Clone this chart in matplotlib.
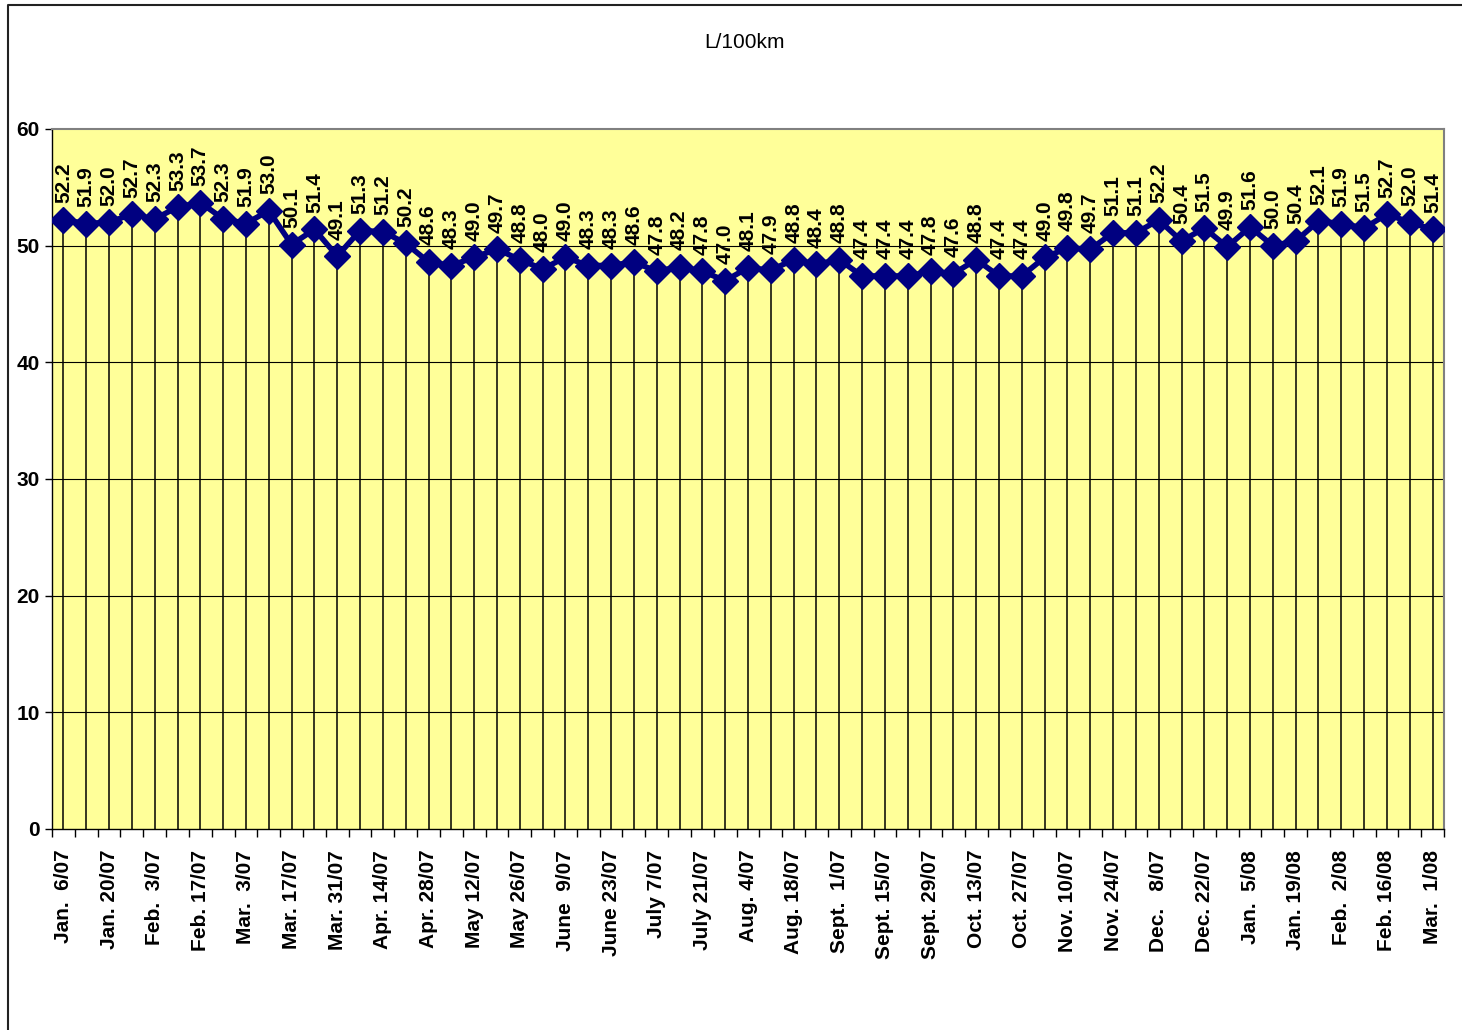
import matplotlib.pyplot as plt
from matplotlib.lines import Line2D

# -----------------------------
# DATA
# -----------------------------

values = [52.2, 51.9, 52.0, 52.7, 52.3, 53.3, 53.7, 52.3, 51.9, 53.0,
          50.1, 51.4, 49.1, 51.3, 51.2, 50.2, 48.6, 48.3, 49.0, 49.7,
          48.8, 48.0, 49.0, 48.3, 48.3, 48.6, 47.8, 48.2, 47.8, 47.0,
          48.1, 47.9, 48.8, 48.4, 48.8, 47.4, 47.4, 47.4, 47.8, 47.6,
          48.8, 47.4, 47.4, 49.0, 49.8, 49.7, 51.1, 51.1, 52.2, 50.4,
          51.5, 49.9, 51.6, 50.0, 50.4, 52.1, 51.9, 51.5, 52.7, 52.0,
          51.4]

# one label every second week
tick_labels = ["Jan.  6/07", "Jan. 20/07", "Feb.  3/07", "Feb. 17/07",
               "Mar.  3/07", "Mar. 17/07", "Mar. 31/07", "Apr. 14/07",
               "Apr. 28/07", "May 12/07", "May 26/07", "June  9/07",
               "June 23/07", "July 7/07", "July 21/07", "Aug. 4/07",
               "Aug. 18/07", "Sept.  1/07", "Sept. 15/07", "Sept. 29/07",
               "Oct. 13/07", "Oct. 27/07", "Nov. 10/07", "Nov. 24/07",
               "Dec.   8/07", "Dec. 22/07", "Jan.  5/08", "Jan. 19/08",
               "Feb.  2/08", "Feb. 16/08", "Mar.  1/08"]

title = "L/100km"
y_ticks = [0, 10, 20, 30, 40, 50, 60]

# -----------------------------
# CHART
# -----------------------------

plt.rcParams["font.family"] = ["Liberation Sans", "DejaVu Sans"]

fig = plt.figure(figsize=(14.62, 10.30), dpi=100)
ax = fig.add_axes([52 / 1462, 1 - 829 / 1030, 1392 / 1462, 700 / 1030])
ax.set_facecolor("#FFFF99")

x = list(range(len(values)))

# horizontal gridlines
for yv in y_ticks[1:-1]:
    ax.axhline(yv, color="black", lw=0.8, zorder=1)

# drop lines from each point to the axis
ax.vlines(x, 0, values, color="black", lw=1.1, zorder=2)

ax.plot(x, values, color="#000080", lw=4, marker="D", markersize=13,
        markerfacecolor="#000080", markeredgecolor="#000080", zorder=3)

for xi, v in zip(x, values):
    ax.annotate(f"{v:.1f}", (xi, v), xytext=(0, 12), textcoords="offset points",
                rotation=90, ha="center", va="bottom", fontsize=15,
                fontweight="bold", zorder=4)

ax.set_xlim(-0.5, len(values) - 0.5)
ax.set_ylim(0, 60)

ax.set_yticks(y_ticks)
ax.set_yticklabels([str(t) for t in y_ticks], fontsize=15, fontweight="bold")
ax.tick_params(axis="y", length=5, width=1, pad=4)

ax.set_xticks(x[::2])
ax.set_xticklabels(tick_labels, rotation=90, fontsize=15, fontweight="bold",
                   va="top", ha="center")
ax.set_xticks([i - 0.5 for i in range(len(values) + 1)], minor=True)
ax.tick_params(axis="x", which="major", length=0, pad=15)
ax.tick_params(axis="x", which="minor", length=6, width=1)

for side in ["top", "right"]:
    ax.spines[side].set_color("#808080")
    ax.spines[side].set_linewidth(1.5)
for side in ["left", "bottom"]:
    ax.spines[side].set_color("black")
    ax.spines[side].set_linewidth(1)

fig.text(745 / 1462, 1 - 43 / 1030, title, ha="center", va="center", fontsize=15)

# chart area border (left and top edges only visible)
fig.add_artist(Line2D([8 / 1462, 8 / 1462, 1.0], [0.0, 1 - 5 / 1030, 1 - 5 / 1030],
                      transform=fig.transFigure, color="#222222", lw=1.5))

plt.savefig("out.png", dpi=100)
